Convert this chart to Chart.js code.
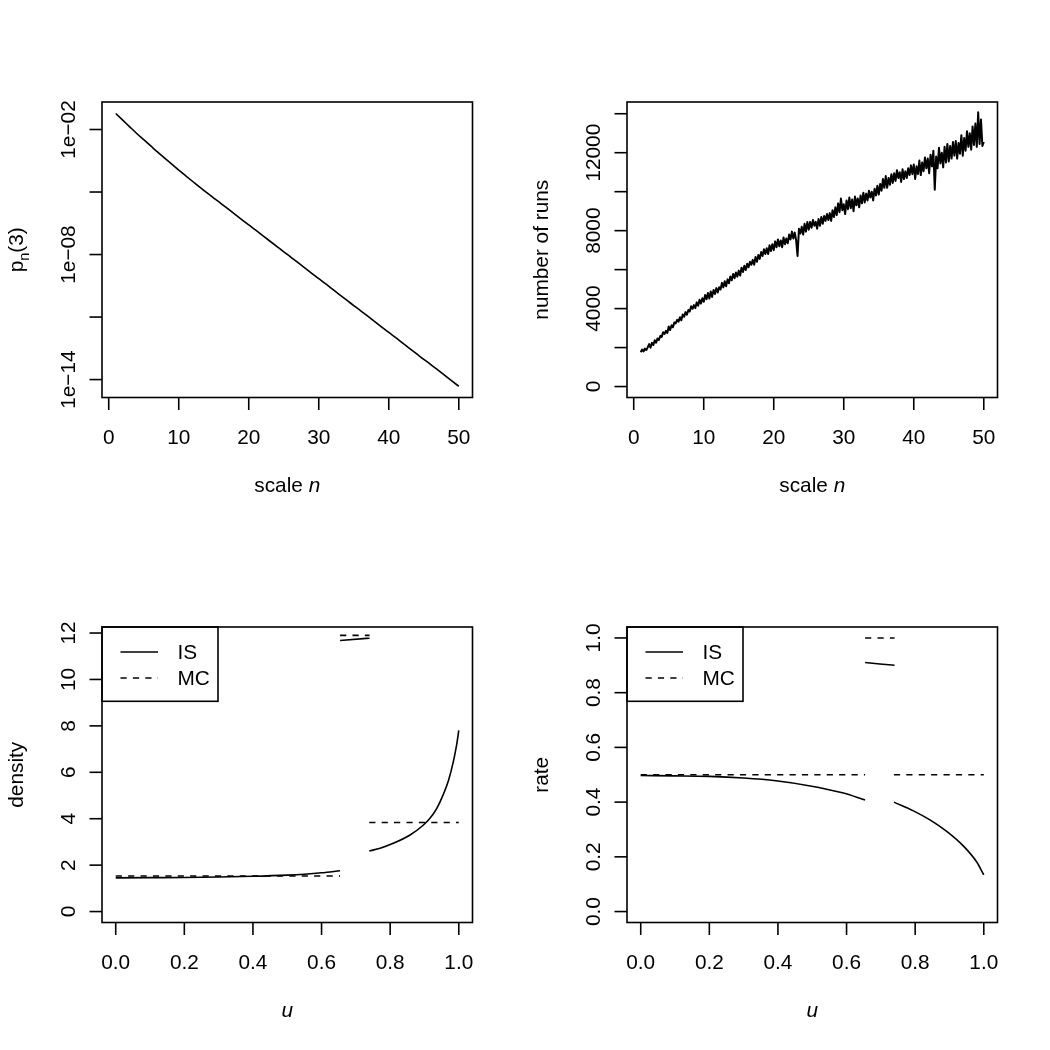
<!DOCTYPE html>
<html>
<head>
<meta charset="utf-8">
<script src="https://cdn.jsdelivr.net/npm/chart.js@4/dist/chart.umd.min.js"></script>
<style>
  html, body { margin: 0; padding: 0; background: #fff; }
  #page { position: relative; width: 1050px; height: 1050px; background: #fff; }
  #page canvas { position: absolute; }
</style>
</head>
<body>
<div id="page">
  <canvas id="pn" width="525" height="525" style="left:0;top:0"></canvas>
  <canvas id="runs" width="525" height="525" style="left:525px;top:0"></canvas>
  <canvas id="density" width="525" height="525" style="left:0;top:525px"></canvas>
  <canvas id="rate" width="525" height="525" style="left:525px;top:525px"></canvas>
</div>
<script>
// ---- data ----

// top left: log10 of p_n(3) for n = 1..50
const logP = [
  -1.23, -1.55, -1.87, -2.19, -2.49, -2.79, -3.09, -3.375, -3.66, -3.945,
  -4.22, -4.495, -4.77, -5.03, -5.29, -5.54, -5.80, -6.06, -6.32, -6.58,
  -6.83, -7.09, -7.35, -7.61, -7.87, -8.12, -8.38, -8.64, -8.90, -9.16,
  -9.41, -9.67, -9.93, -10.19, -10.45, -10.70, -10.96, -11.22, -11.48, -11.74,
  -11.99, -12.25, -12.51, -12.77, -13.03, -13.28, -13.54, -13.80, -14.06, -14.32
];

// top right: number of runs, every 0.2 of n from 1 to 50
const runsStep = 0.2;
const runs = [
  1760, 1900, 1800, 1950, 1870,   2010, 2180, 1990, 2240, 2130,
  2380, 2250, 2470, 2390, 2600,   2550, 2790, 2700, 2860, 2750,
  3080, 2900, 3150, 3040, 3290,   3240, 3420, 3330, 3560, 3400,
  3700, 3580, 3820, 3690, 3930,   3850, 4120, 3990, 4180, 4030,
  4320, 4150, 4450, 4260, 4530,   4350, 4700, 4480, 4800, 4520,
  4880, 4600, 4950, 4750, 5050,   4830, 5100, 4980, 5320, 5090,
  5400, 5150, 5500, 5300, 5650,   5450, 5780, 5560, 5850, 5640,
  5950, 5700, 6100, 5880, 6200,   5980, 6300, 6120, 6400, 6250,
  6500, 6250, 6650, 6400, 6750,   6550, 6900, 6700, 7050, 6800,
  7100, 6800, 7250, 6950, 7300,   7000, 7450, 7150, 7550, 7200,
  7500, 7150, 7650, 7300, 7600,   7350, 7800, 7550, 7950, 7600,
  7900, 7500, 6700, 8100, 7850,   8200, 7800, 8350, 7950, 8450,
  8050, 8450, 8150, 8550, 8250,   8450, 8100, 8600, 8250, 8700,
  8350, 8750, 8500, 8850, 8550,   8900, 8500, 9050, 8700, 9200,
  8800, 9400, 8950, 9650, 9050,   9350, 8850, 9550, 9100, 9700,
  9150, 9600, 9000, 9750, 9300,   9650, 9200, 9800, 9400, 9950,
  9450, 9900, 9550, 10050, 9700,  10000, 9550, 10150, 9800, 10300,
  9850, 10400, 10050, 10650, 10200, 10800, 10200, 10700, 10350, 10900,
  10450, 10950, 10550, 11100, 10700, 11000, 10500, 11150, 10650, 11050,
  10700, 11200, 10850, 11350, 10900, 11400, 10650, 11300, 10900, 11600,
  10850, 11500, 11050, 11750, 11200, 11700, 10950, 11900, 11300, 12100,
  10100, 11800, 11200, 12250, 11450, 12000, 11250, 12300, 11500, 12450,
  11550, 12350, 11700, 12550, 11850, 12600, 11700, 12500, 11950, 12900,
  11850, 12750, 12100, 13100, 12300, 13000, 12150, 13350, 12400, 13500,
  12300, 14080, 12450, 13700, 12350, 12550
];

// bottom left: density against u, three pieces each
const densU1 = [0, 0.1, 0.2, 0.3, 0.4, 0.5, 0.55, 0.6, 0.654];
const densIS1 = [1.45, 1.46, 1.47, 1.49, 1.52, 1.57, 1.61, 1.67, 1.76];
const densU2 = [0.654, 0.74];
const densIS2 = [11.68, 11.78];
const densU3 = [0.739, 0.771, 0.809, 0.858, 0.897, 0.916, 0.936, 0.955, 0.970, 0.984, 0.994, 1.0];
const densIS3 = [2.61, 2.73, 2.94, 3.30, 3.73, 4.02, 4.45, 5.05, 5.65, 6.45, 7.20, 7.81];
const densMC = [1.53, 11.9, 3.84];

// bottom right: rate against u
const rateU1 = [0, 0.1, 0.2, 0.3, 0.394, 0.49, 0.588, 0.654];
const rateIS1 = [0.497, 0.496, 0.494, 0.488, 0.478, 0.46, 0.434, 0.408];
const rateU2 = [0.654, 0.74];
const rateIS2 = [0.91, 0.90];
const rateU3 = [0.738, 0.795, 0.843, 0.892, 0.941, 0.98, 1.0];
const rateIS3 = [0.40, 0.368, 0.335, 0.293, 0.239, 0.18, 0.134];
const rateMC = [0.5, 1.0, 0.5];

// ticks
const nTicks = [0, 10, 20, 30, 40, 50];
const pTicks = [1e-2, 1e-5, 1e-8, 1e-11, 1e-14];
const pLabels = ["1e\u221202", "", "1e\u221208", "", "1e\u221214"];
const runTicks = [0, 2000, 4000, 6000, 8000, 10000, 12000, 14000];
const runLabels = ["0", "", "4000", "", "8000", "", "12000", ""];
const uTicks = [0, 0.2, 0.4, 0.6, 0.8, 1.0];
const densTicks = [0, 2, 4, 6, 8, 10, 12];
const rateTicks = [0, 0.2, 0.4, 0.6, 0.8, 1.0];

// ---- drawing ----
const FONT = '"Liberation Sans", Arial, Helvetica, sans-serif';
const FS = 20.8;
const LW = 1.6;
const DASH = [6.2, 6.2];

const pts = (xs, ys) => xs.map((x, i) => ({ x, y: ys[i] }));
const flat = (xs, v) => xs.map(x => ({ x, y: v }));

function seg(ctx, x1, y1, x2, y2) {
  ctx.beginPath();
  ctx.moveTo(x1, y1);
  ctx.lineTo(x2, y2);
  ctx.stroke();
}

// draws a list of [text, italic, subscript] pieces centred on 0
function drawParts(ctx, parts, y) {
  const fontOf = p => `${p[1] ? "italic " : ""}${p[2] ? FS * 0.7 : FS}px ${FONT}`;
  const widths = parts.map(p => { ctx.font = fontOf(p); return ctx.measureText(p[0]).width; });
  let x = -widths.reduce((a, b) => a + b, 0) / 2;
  ctx.textAlign = "left";
  parts.forEach((p, i) => {
    ctx.font = fontOf(p);
    ctx.fillText(p[0], x, y + (p[2] ? FS * 0.3 : 0));
    x += widths[i];
  });
}

const rFrame = {
  id: "rFrame",
  afterDraw(chart, args, o) {
    const { ctx, chartArea: a, scales } = chart;
    ctx.save();
    ctx.strokeStyle = "#000";
    ctx.fillStyle = "#000";
    ctx.lineWidth = LW;
    ctx.setLineDash([]);
    ctx.strokeRect(a.left, a.top, a.right - a.left, a.bottom - a.top);
    ctx.font = `${FS}px ${FONT}`;
    ctx.textBaseline = "alphabetic";

    ctx.textAlign = "center";
    o.xTicks.forEach((v, i) => {
      const x = scales.x.getPixelForValue(v);
      seg(ctx, x, a.bottom, x, a.bottom + 12.5);
      const lab = o.xLabels ? o.xLabels[i] : String(v);
      if (lab) ctx.fillText(lab, x, 443.5);
    });

    o.yTicks.forEach((v, i) => {
      const y = scales.y.getPixelForValue(v);
      seg(ctx, a.left - 12.5, y, a.left, y);
      const lab = o.yLabels ? o.yLabels[i] : String(v);
      if (lab) {
        ctx.save();
        ctx.translate(74.5, y);
        ctx.rotate(-Math.PI / 2);
        ctx.textAlign = "center";
        ctx.fillText(lab, 0, 0);
        ctx.restore();
      }
    });

    ctx.save();
    ctx.translate((a.left + a.right) / 2, 0);
    drawParts(ctx, o.xTitle, 491.5);
    ctx.restore();

    ctx.save();
    ctx.translate(23, (a.top + a.bottom) / 2);
    ctx.rotate(-Math.PI / 2);
    drawParts(ctx, o.yTitle, 0);
    ctx.restore();

    if (o.legend) {
      ctx.strokeRect(a.left, a.top, 116, 74.3);
      ctx.font = `${FS}px ${FONT}`;
      ctx.textAlign = "left";
      ctx.textBaseline = "middle";
      seg(ctx, a.left + 18.5, a.top + 25, a.left + 56, a.top + 25);
      ctx.fillText("IS", a.left + 75.5, a.top + 26);
      ctx.setLineDash(DASH);
      seg(ctx, a.left + 18.5, a.top + 51, a.left + 56, a.top + 51);
      ctx.setLineDash([]);
      ctx.fillText("MC", a.left + 75.5, a.top + 52);
    }
    ctx.restore();
  }
};

function line(data, dashed, smooth, width) {
  return {
    data,
    borderColor: "#000",
    borderWidth: width || LW,
    borderDash: dashed ? DASH : [],
    borderJoinStyle: "round",
    pointRadius: 0,
    fill: false,
    tension: 0,
    cubicInterpolationMode: smooth ? "monotone" : "default"
  };
}

function panel(id, datasets, x, y, frame) {
  return new Chart(document.getElementById(id), {
    type: "line",
    data: { datasets },
    options: {
      responsive: false,
      animation: false,
      events: [],
      layout: { padding: { left: 102, top: 102, right: 52.5, bottom: 127.5 } },
      scales: {
        x: Object.assign({ type: "linear", display: false }, x),
        y: Object.assign({ type: "linear", display: false }, y)
      },
      plugins: { legend: { display: false }, tooltip: { enabled: false }, rFrame: frame }
    },
    plugins: [rFrame]
  });
}

panel("pn",
  [line(logP.map((v, i) => ({ x: i + 1, y: Math.pow(10, v) })), false, true)],
  { min: -0.96, max: 51.96 },
  { type: "logarithmic", min: Math.pow(10, -14.86), max: Math.pow(10, -0.68) },
  {
    xTicks: nTicks, yTicks: pTicks, yLabels: pLabels,
    xTitle: [["scale ", false, false], ["n", true, false]],
    yTitle: [["p", false, false], ["n", false, true], ["(3)", false, false]]
  });

panel("runs",
  [line(runs.map((v, i) => ({ x: 1 + i * runsStep, y: v })), false, false, 2)],
  { min: -0.96, max: 51.96 },
  { min: -562, max: 14602 },
  {
    xTicks: nTicks, yTicks: runTicks, yLabels: runLabels,
    xTitle: [["scale ", false, false], ["n", true, false]],
    yTitle: [["number of runs", false, false]]
  });

const uLabels = uTicks.map(v => v.toFixed(1));

panel("density",
  [
    line(pts(densU1, densIS1), false, true),
    line(pts(densU2, densIS2), false, true),
    line(pts(densU3, densIS3), false, true),
    line(flat(densU1, densMC[0]), true, false),
    line(flat(densU2, densMC[1]), true, false),
    line(flat(densU3, densMC[2]), true, false)
  ],
  { min: -0.04, max: 1.04 },
  { min: -0.4716, max: 12.26 },
  {
    xTicks: uTicks, xLabels: uLabels, yTicks: densTicks, legend: true,
    xTitle: [["u", true, false]],
    yTitle: [["density", false, false]]
  });

panel("rate",
  [
    line(pts(rateU1, rateIS1), false, true),
    line(pts(rateU2, rateIS2), false, true),
    line(pts(rateU3, rateIS3), false, true),
    line(flat(rateU1, rateMC[0]), true, false),
    line(flat(rateU2, rateMC[1]), true, false),
    line(flat(rateU3, rateMC[2]), true, false)
  ],
  { min: -0.04, max: 1.04 },
  { min: -0.04, max: 1.04 },
  {
    xTicks: uTicks, xLabels: uLabels, yTicks: rateTicks,
    yLabels: rateTicks.map(v => v.toFixed(1)), legend: true,
    xTitle: [["u", true, false]],
    yTitle: [["rate", false, false]]
  });
</script>
</body>
</html>
